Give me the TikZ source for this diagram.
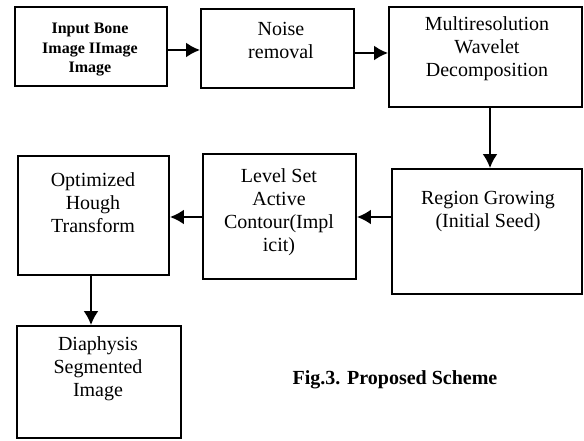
\documentclass[tikz,border=0pt]{standalone}
\usepackage{fontspec}
\setmainfont{Liberation Serif}
\usetikzlibrary{arrows.meta,positioning}

\begin{document}
\begin{tikzpicture}[x=1pt,y=-1pt,
	blk/.style={draw,line width=1.8pt,inner sep=0pt},
	txt/.style={align=center,inner sep=0pt,font=\fontsize{20}{23}\selectfont},
	flow/.style={line width=2.4pt,-{Latex[length=14pt,width=15pt]}}]
		\useasboundingbox (0,0) rectangle (584,441);
		% boxes
		\node[blk,minimum width=152pt,minimum height=79pt] (input) at (91,46.5) {};
		\node[blk,minimum width=153pt,minimum height=79pt] (noise) at (277.5,48.5) {};
		\node[blk,minimum width=193pt,minimum height=100pt] (wave) at (485.5,57) {};
		\node[blk,minimum width=190pt,minimum height=125pt] (grow) at (487,231.5) {};
		\node[blk,minimum width=153pt,minimum height=125pt] (level) at (279.5,216.5) {};
		\node[blk,minimum width=151pt,minimum height=119pt] (hough) at (93.5,215.5) {};
		\node[blk,minimum width=164pt,minimum height=112pt] (diaph) at (99,382) {};
		% texts
		\node[txt,font=\bfseries\fontsize{16}{19.5}\selectfont] (tinput) at (90,50) {Input Bone\\Image IImage\\Image};
		\node[txt] (tnoise) at (281,40) {Noise\\removal};
		\node[txt] (twave) at (487,49) {Multiresolution\\Wavelet\\Decomposition};
		\node[txt] (tgrow) at (488,211.5) {Region Growing\\(Initial Seed)};
		\node[txt] (tlevel) at (279,212.5) {Level Set\\Active\\Contour(Impl\\icit)};
		\node[txt] (though) at (93,202.5) {Optimized\\Hough\\Transform};
		\node[txt] (tdiaph) at (98,368.5) {Diaphysis\\Segmented\\Image};
		\node[txt,font=\bfseries\fontsize{20}{23}\selectfont] (caption) at (395,380) {Fig.3. Proposed Scheme};
		% arrows
		\draw[flow] (input.east |- 0,50) -- (noise.west |- 0,50);
		\draw[flow] (noise.east |- 0,53) -- (wave.west |- 0,53);
		\draw[flow] (wave.south -| 490,0) -- (grow.north -| 490,0);
		\draw[flow] (grow.west |- 0,217) -- (level.east |- 0,217);
		\draw[flow] (level.west |- 0,217) -- (hough.east |- 0,217);
		\draw[flow] (hough.south -| 91,0) -- (diaph.north -| 91,0);
		\end{tikzpicture}
\end{document}
